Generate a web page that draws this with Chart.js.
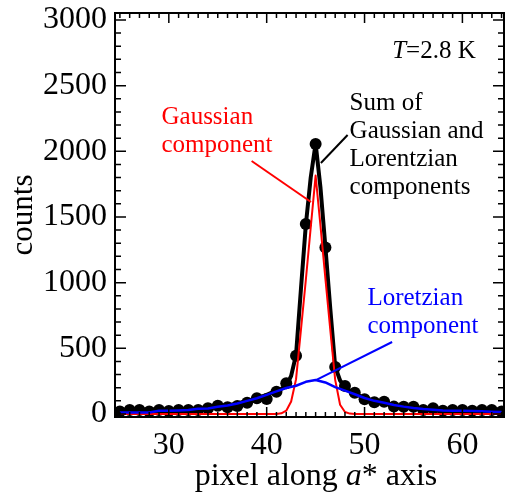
<!DOCTYPE html>
<html>
<head>
<meta charset="utf-8">
<script src="https://cdn.jsdelivr.net/npm/chart.js@4.4.1/dist/chart.umd.min.js"></script>
<style>
  body { margin: 0; background: #fff; }
  #wrap { width: 510px; height: 500px; }
</style>
</head>
<body>
<div id="wrap"><canvas id="chartPeak" width="510" height="500"></canvas></div>
<script>
// measured counts at each pixel
const pixels = [25, 26, 27, 28, 29, 30, 31, 32, 33, 34, 35, 36, 37, 38, 39, 40, 41, 42, 43, 44,
                45, 46, 47, 48, 49, 50, 51, 52, 53, 54, 55, 56, 57, 58, 59, 60, 61, 62, 63, 64];
const counts = [18, 30, 30, 18, 30, 23, 30, 30, 30, 43, 63, 51, 61, 86, 120, 114, 170, 234, 444, 1447,
                2056, 1267, 358, 213, 162, 112, 90, 94, 56, 55, 55, 31, 43, 25, 30, 30, 25, 30, 30, 18];

// Lorentzian component (blue)
const lorentz = [12, 12, 12, 12, 25, 25, 27, 30, 40, 42, 55, 65, 80, 100, 120, 145, 172, 198, 215, 245,
                 259, 240, 205, 178, 150, 122, 100, 85, 69, 56, 46, 38, 32, 26, 25, 24, 23, 20, 17, 15];

// Gaussian component (red)
const gaussX = [25, 41, 41.5, 42, 42.5, 43, 43.5, 44, 44.5, 45, 45.5, 46, 46.5, 47, 47.5, 48, 48.5, 49, 64];
const gaussY = [0, 0, 5, 25, 95, 265, 640, 1020, 1420, 1815, 1430, 1030, 640, 260, 70, 15, 3, 0, 0];

// sum of both components (black)
const sumX = [25, 26, 27, 28, 29, 30, 31, 32, 33, 34, 35, 36, 37, 38, 39, 40,
              41, 41.5, 42, 42.5, 43, 43.5, 44, 44.5, 45, 45.5, 46, 46.5, 47, 47.5, 48, 48.5, 49,
              50, 51, 52, 53, 54, 55, 56, 57, 58, 59, 60, 61, 62, 63, 64];
const sumY = [12, 12, 12, 12, 25, 25, 27, 30, 40, 42, 55, 65, 80, 100, 120, 145,
              178, 192, 212, 290, 450, 950, 1440, 1800, 2060, 1720, 1270, 800, 360, 255, 205, 175, 155,
              122, 100, 85, 69, 56, 46, 38, 32, 26, 25, 24, 23, 20, 17, 15];

const xTicks = [30, 40, 50, 60];
const yTicks = [0, 500, 1000, 1500, 2000, 2500, 3000];

const serif = "'Liberation Serif', 'Times New Roman', serif";
Chart.defaults.font.family = serif;
Chart.defaults.color = '#000';

const pts = (xs, ys) => xs.map((x, i) => ({ x: x, y: ys[i] }));

// text notes, anchored in data units (first baseline), lines 28px apart
const notes = [
    { lines: ['Sum of', 'Gaussian and', 'Lorentzian', 'components'], x: 48.47, y: 2314, color: '#000' },
    { lines: ['Gaussian', 'component'], x: 29.25, y: 2208, color: '#ff0000' },
    { lines: ['Loretzian', 'component'], x: 50.29, y: 830, color: '#0000ff' }
];
const pointers = [
    { from: [48.27, 2124], to: [45.54, 1911], color: '#000' },
    { from: [38.46, 1926], to: [44.53, 1614], color: '#ff0000' },
    { from: [45.03, 258], to: [52.82, 548], color: '#0000ff' }
];

function richText(ctx, parts, x, y, size, align) {
    let w = 0;
    parts.forEach(p => {
        ctx.font = (p[1] ? 'italic ' : '') + size + 'px ' + serif;
        w += ctx.measureText(p[0]).width;
    });
    let cx = align === 'center' ? x - w / 2 : x;
    parts.forEach(p => {
        ctx.font = (p[1] ? 'italic ' : '') + size + 'px ' + serif;
        ctx.fillText(p[0], cx, y);
        cx += ctx.measureText(p[0]).width;
    });
}

const framePlugin = {
    id: 'frame',
    afterDraw(chart) {
        const ctx = chart.ctx;
        const a = chart.chartArea;
        const sx = chart.scales.x, sy = chart.scales.y;
        ctx.save();

        // annotation pointers
        ctx.lineWidth = 2;
        pointers.forEach(p => {
            ctx.strokeStyle = p.color;
            ctx.beginPath();
            ctx.moveTo(sx.getPixelForValue(p.from[0]), sy.getPixelForValue(p.from[1]));
            ctx.lineTo(sx.getPixelForValue(p.to[0]), sy.getPixelForValue(p.to[1]));
            ctx.stroke();
        });

        // frame
        ctx.strokeStyle = '#000';
        ctx.lineWidth = 2;
        ctx.strokeRect(a.left, a.top, a.right - a.left, a.bottom - a.top);

        // inward ticks on all four sides
        ctx.lineWidth = 1.5;
        ctx.beginPath();
        for (let v = 25; v <= 64; v++) {
            const px = sx.getPixelForValue(v);
            const len = v % 10 === 0 ? 10 : 5;
            ctx.moveTo(px, a.bottom); ctx.lineTo(px, a.bottom - len);
            ctx.moveTo(px, a.top); ctx.lineTo(px, a.top + len);
        }
        for (let v = 0; v <= 3000; v += 100) {
            const py = sy.getPixelForValue(v);
            const len = v % 500 === 0 ? 11 : 6;
            ctx.moveTo(a.left, py); ctx.lineTo(a.left + len, py);
            ctx.moveTo(a.right, py); ctx.lineTo(a.right - len, py);
        }
        ctx.stroke();

        // notes
        ctx.textBaseline = 'alphabetic';
        ctx.textAlign = 'left';
        notes.forEach(n => {
            ctx.fillStyle = n.color;
            ctx.font = '25px ' + serif;
            const x0 = sx.getPixelForValue(n.x);
            const y0 = sy.getPixelForValue(n.y);
            n.lines.forEach((t, i) => ctx.fillText(t, x0, y0 + i * 28));
        });
        ctx.fillStyle = '#000';
        richText(ctx, [['T', true], ['=2.8 K', false]],
            sx.getPixelForValue(52.82), sy.getPixelForValue(2710), 25, 'left');

        // axis titles
        richText(ctx, [['pixel along ', false], ['a', true], ['* axis', false]], 316, 485, 32, 'center');
        ctx.translate(32, (a.top + a.bottom) / 2);
        ctx.rotate(-Math.PI / 2);
        richText(ctx, [['counts', false]], 0, 0, 31, 'center');
        ctx.restore();
    }
};

const config = {
    type: 'line',
    data: {
        datasets: [{
            label: 'Lorentzian',
            data: pts(pixels, lorentz),
            borderColor: '#0000ff',
            borderWidth: 2.5,
            borderJoinStyle: 'round',
            pointRadius: 0,
            tension: 0,
            order: 1
        }, {
            label: 'Gaussian',
            data: pts(gaussX, gaussY),
            borderColor: '#ff0000',
            borderWidth: 2,
            borderJoinStyle: 'round',
            pointRadius: 0,
            tension: 0,
            order: 2
        }, {
            label: 'Sum',
            data: pts(sumX, sumY),
            borderColor: '#000',
            borderWidth: 4,
            borderJoinStyle: 'round',
            pointRadius: 0,
            tension: 0,
            order: 3
        }, {
            label: 'counts',
            data: pts(pixels, counts),
            showLine: false,
            pointRadius: 6,
            pointBackgroundColor: '#000',
            pointBorderColor: '#000',
            pointBorderWidth: 0,
            order: 4
        }]
    },
    options: {
        responsive: false,
        animation: false,
        clip: 0,
        layout: { padding: { top: 13, right: 2, left: 0, bottom: 0 } },
        plugins: { legend: { display: false }, tooltip: { enabled: false } },
        scales: {
            x: {
                type: 'linear',
                min: 24.5,
                max: 64.25,
                grid: { display: false, drawTicks: false },
                border: { display: false },
                ticks: { font: { size: 32 }, padding: 9, maxRotation: 0, callback: v => String(v) },
                afterBuildTicks: s => { s.ticks = xTicks.map(v => ({ value: v })); },
                afterFit: s => { s.height = 83; s.paddingLeft = 0; s.paddingRight = 0; }
            },
            y: {
                min: -23,
                max: 3053,
                grid: { display: false, drawTicks: false },
                border: { display: false },
                ticks: { font: { size: 32 }, padding: 8, callback: v => String(v) },
                afterBuildTicks: s => { s.ticks = yTicks.map(v => ({ value: v })); },
                afterFit: s => { s.width = 115; s.paddingTop = 0; s.paddingBottom = 0; }
            }
        }
    },
    plugins: [framePlugin]
};

new Chart(
    document.getElementById('chartPeak'),
    config
);
</script>
</body>
</html>
